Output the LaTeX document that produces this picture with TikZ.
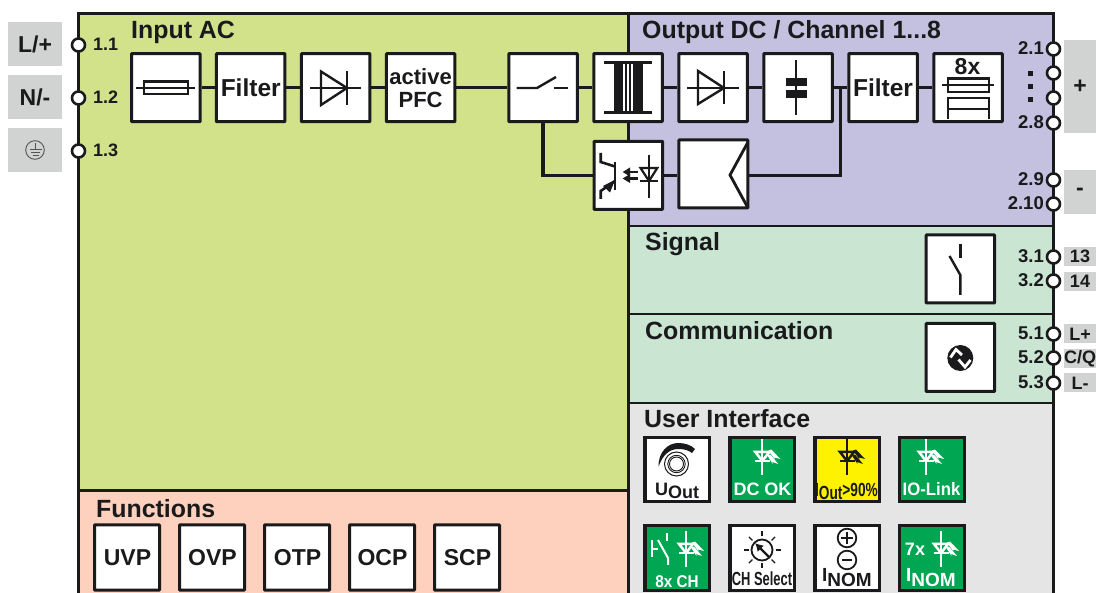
\documentclass[tikz,border=0pt]{standalone}
\usepackage{fontspec}
\usepackage{graphicx}
\setmainfont{Liberation Sans}[BoldFont={Liberation Sans Bold}]
\usetikzlibrary{arrows.meta}
\definecolor{ink}{HTML}{1A1A1C}
\definecolor{inputc}{HTML}{D2E28B}
\definecolor{outc}{HTML}{C4C1E0}
\definecolor{sigc}{HTML}{CAE6D3}
\definecolor{funcc}{HTML}{FDD1BD}
\definecolor{uic}{HTML}{E5E5E5}
\definecolor{tabc}{HTML}{D1D3D2}
\definecolor{ledg}{HTML}{00A651}
\definecolor{ledy}{HTML}{FFF200}
\newcommand{\fs}[1]{\fontsize{#1}{#1}\selectfont\bfseries}
\newcommand{\ledicon}[3]{% cx, top y, colour
  \begin{scope}[shift={(#1,#2)},draw=#3,line width=2pt]
    \draw (0,-1) -- (0,35.5);
    \draw[line width=2.5pt] (-7,12) -- (7,12) -- (0,21) -- cycle;
    \draw[line width=2.5pt] (-7.5,21) -- (7.5,21);
    \fill[#3] (6,10.5) -- (9,9.5) -- (18,19) -- (12,17.5) -- (12.5,19.5) -- cycle;
    \fill[#3] (5,15.5) -- (8,14.5) -- (16,24) -- (10,22) -- (10.5,24) -- cycle;
  \end{scope}}
\tikzset{
  x=1pt,y=-1pt,
  blk/.style={draw=ink,fill=white,line width=3pt,minimum width=68.5pt,minimum height=68pt,inner sep=0pt,rounded corners=0.6pt,text=ink,align=center,font=\fs{24.5}},
  tile/.style={draw=ink,line width=3.2pt,fill=#1,minimum width=64.5pt,minimum height=64.5pt,inner sep=0pt},
  term/.style={circle,draw=ink,fill=white,line width=2.6pt,minimum size=13pt,inner sep=0pt},
  tabbox/.style={fill=tabc,inner sep=0pt,text=ink},
  wire/.style={draw=ink,line width=3.4pt},
  sym/.style={draw=ink,line width=2.4pt},
  title/.style={anchor=base west,text=ink,font=\fs{24.9},inner sep=0pt},
  plab/.style={text=ink,font=\fs{18.5},inner sep=0pt},
  tlab/.style={font=\fs{18},inner sep=0pt,anchor=base},
}
\begin{document}
\begin{tikzpicture}
\useasboundingbox (0,0) rectangle (1096,593);
\clip (0,0) rectangle (1096,593);
\fill[white] (0,0) rectangle (1096,593);
% panels
\fill[inputc] (78,13) rectangle (628,490);
\fill[funcc] (78,490) rectangle (628,600);
\fill[outc] (628,13) rectangle (1053,226);
\fill[sigc] (628,226) rectangle (1053,403);
\fill[uic] (628,403) rectangle (1053,600);
\draw[ink,line width=2.6pt] (78.5,600) -- (78.5,13.5) -- (1053.5,13.5) -- (1053.5,600);
\draw[ink,line width=2.6pt] (628.5,13.5) -- (628.5,600);
\draw[ink,line width=2.6pt] (78.5,490.5) -- (628.5,490.5);
\draw[ink,line width=2.6pt] (628.5,226) -- (1053.5,226);
\draw[ink,line width=2.6pt] (628.5,314) -- (1053.5,314);
\draw[ink,line width=2.6pt] (628.5,403) -- (1053.5,403);
% titles
\node[title] (tinput) at (131,39) {Input AC};
\node[title] (toutput) at (642,39) {Output DC / Channel 1...8};
\node[title] (tsignal) at (645,251) {Signal};
\node[title] (tcomm) at (645,340) {Communication};
\node[title] (tui) at (644,428) {User Interface};
\node[title] (tfunc) at (96,518) {Functions};
% blocks
\node[blk] (fuse) at (165.8,87.7) {};
\node[blk] (filt1) at (250.7,87.7) {\raisebox{-1pt}{Filter}};
\node[blk] (diode1) at (335.7,87.7) {};
\node[blk,font=\fs{22}] (pfc) at (420.6,87.7) {active\\[1pt]PFC};
\node[blk] (switch) at (543,87.7) {};
\node[blk] (xfmr) at (628,87.7) {};
\node[blk] (diode2) at (713,87.7) {};
\node[blk] (cap) at (798,87.7) {};
\node[blk] (filt2) at (883,87.7) {\raisebox{-1pt}{Filter}};
\node[blk] (fuse8) at (968,87.7) {};
\node[blk] (opto) at (628.3,175.3) {};
\node[blk,minimum width=69pt] (dcbox) at (713.3,174) {};
\node[blk] (sigbox) at (960.3,269) {};
\node[blk] (combox) at (960.3,357.5) {};
% connectors
\foreach \a/\b in {fuse/filt1,filt1/diode1,diode1/pfc,pfc/switch,switch/xfmr,xfmr/diode2,diode2/cap,cap/filt2,filt2/fuse8}
  \draw[wire] (\a) -- (\b);
\coordinate (join) at (840.7,87.7);
\coordinate (optoin) at (opto.west);
\coordinate (dcmid) at (dcbox.east |- opto.east);
\draw[wire] (opto.east) -- (dcbox.west |- opto.east);
\draw[wire] (switch.south) |- (optoin);
\draw[wire] (dcmid) -| (join);
% symbols: fuse
\draw[sym] (136,88) -- (195,88);
\draw[sym,line width=2.6pt] (144,81.3) rectangle (188,94);
% diode 1
\draw[sym] (310,88) -- (361,88);
\draw[sym] (321,71.5) -- (321,105) -- (347,88) -- cycle;
\draw[sym] (347,71) -- (347,105);
% switch
\draw[sym] (516.5,88) -- (537,88) -- (556,77);
\draw[sym] (553.5,88) -- (568,88);
% transformer
\draw[sym] (604,62.7) -- (652,62.7);
\draw[sym] (604,112.5) -- (652,112.5);
\fill[ink] (614,62) rectangle (623,113);
\fill[ink] (632.5,62) rectangle (642.5,113);
\fill[ink] (625,62) rectangle (627,113);
\fill[ink] (628.5,62) rectangle (630.5,113);
% diode 2
\draw[sym] (687,88) -- (739,88);
\draw[sym] (698,71) -- (698,104) -- (724,88) -- cycle;
\draw[sym] (724,71) -- (724,104);
% capacitor
\draw[sym,line width=1.8pt] (796,60) -- (796,115);
\fill[ink] (786,78) rectangle (807,86);
\fill[ink] (786,90) rectangle (807,98);
% 8x fuse
\node[tlab,text=ink,font=\fs{23}] (eightx) at (967.5,74.5) {8x};
\draw[sym,line width=1.8pt] (942,85) -- (994,85);
\draw[sym,line width=2.2pt] (948,78.5) rectangle (989,92);
\draw[sym,line width=2.2pt] (948,119) -- (948,98) -- (989,98) -- (989,119);
\draw[sym,line width=2.2pt] (948,109) -- (989,109);
% optocoupler
\draw[sym,line width=2.6pt] (600.7,153) -- (600.7,162) -- (615,166.5);
\draw[sym,line width=2.8pt] (615,162) -- (615,190);
\draw[sym,line width=2.6pt] (615,181) -- (600.7,191) -- (600.7,199);
\fill[ink] (615,180) -- (603,186) -- (610,192.5) -- cycle;
\fill[ink] (622.7,172) -- (630,167.5) -- (630,176.5) -- cycle;
\fill[ink] (622.7,178.5) -- (630,174) -- (630,183) -- cycle;
\draw[ink,line width=2.4pt] (628,172) -- (638,172);
\draw[ink,line width=2.4pt] (628,178.5) -- (638,178.5);
\draw[sym,line width=2.2pt] (649,154.7) -- (649,198);
\draw[sym,line width=2.2pt] (640.5,168) -- (657.3,168) -- (649,181) -- cycle;
\draw[sym,line width=2.4pt] (640,181) -- (658,181);
% DC box chevron
\draw[sym,line width=2.8pt] (748,142) -- (730,175) -- (748,208);
% signal switch
\draw[sym] (960.3,244) -- (960.3,258);
\draw[sym] (960.3,295) -- (960.3,275) -- (949.5,256);
% comm icon
\fill[ink] (960.3,358) circle (13);
\draw[white,line width=2.8pt] (950.5,357.5) -- (956,349.5) -- (962,355);
\draw[white,line width=2.8pt] (958.5,359.5) -- (965,367) -- (970.5,360);
% left tabs and terminals
\node[tabbox,minimum width=54pt,minimum height=44pt,font=\fs{23}] (tabL) at (35,44) {L/+};
\node[tabbox,minimum width=54pt,minimum height=44pt,font=\fs{23}] (tabN) at (35,97) {N/-};
\node[tabbox,minimum width=54pt,minimum height=44pt] (tabE) at (35,150) {};
\draw[ink!75,line width=0.9pt] (tabE.center) circle (9.3);
\draw[ink!75,line width=1pt] (35.5,143) -- (35.5,150);
\draw[ink!75,line width=1pt] (29.5,150) -- (41.5,150);
\draw[ink!75,line width=1pt] (31,153) -- (40,153);
\draw[ink!75,line width=1pt] (32.5,156) -- (38.5,156);
\node[term] (t11) at (78.5,45) {};
\node[term] (t12) at (78.5,98) {};
\node[term] (t13) at (78.5,151) {};
\node[plab,anchor=base west,font=\fs{18}] (l11) at (93,51) {1.1};
\node[plab,anchor=base west,font=\fs{18}] (l12) at (93,104) {1.2};
\node[plab,anchor=base west,font=\fs{18}] (l13) at (93,157) {1.3};
% right tabs
\node[tabbox,minimum width=32pt,minimum height=93pt,font=\fs{23}] (tabP) at (1080,86.5) {+};
\node[tabbox,minimum width=32pt,minimum height=44pt,font=\fs{23}] (tabM) at (1080,192) {-};
\node[tabbox,minimum width=32pt,minimum height=19pt,font=\fs{18}] (tab13) at (1080,256.5) {13};
\node[tabbox,minimum width=32pt,minimum height=19pt,font=\fs{18}] (tab14) at (1080,281.5) {14};
\node[tabbox,minimum width=32pt,minimum height=19pt,font=\fs{18}] (tabLp) at (1080,334) {L+};
\node[tabbox,minimum width=32pt,minimum height=19pt,font=\fs{18}] (tabCQ) at (1080,358.5) {C/Q};
\node[tabbox,minimum width=32pt,minimum height=19pt,font=\fs{18}] (tabLm) at (1080,383) {L-};
\foreach \nm/\yy in {a/49,b/73,c/98,d/123,e/180,f/204,g/257,h/281,i/334,j/358,k/383}
  \node[term] (tr\nm) at (1053.5,\yy) {};
\foreach \nm/\yy/\tx in {a/55/2.1,d/129/2.8,e/186/2.9,f/210/2.10,g/263/3.1,h/287/3.2,i/340/5.1,j/364/5.2,k/389/5.3}
  \node[plab,anchor=base east] (lr\nm) at (1044,\yy) {\tx};
\fill[ink] (1027.5,71.5) rectangle (1032.5,76.5);
\fill[ink] (1027.5,84.5) rectangle (1032.5,89.5);
\fill[ink] (1027.5,97) rectangle (1032.5,102);
% functions
\foreach \nm/\cx in {UVP/127,OVP/212,OTP/297,OCP/382,SCP/467}
  \node[blk,minimum width=65pt,minimum height=65pt,font=\fs{23}] (f\nm) at (\cx,557.5) {\raisebox{-2pt}{\hspace{1pt}\nm}};
% UI tiles row 1
\node[tile=white] (uout) at (677.3,469.5) {};
\node[tile=ledg] (dcok) at (762.3,469.5) {};
\node[tile=ledy] (iout) at (847.3,469.5) {};
\node[tile=ledg] (iolink) at (932,469.5) {};
% UI tiles row 2
\node[tile=ledg] (ch8) at (677.3,558) {};
\node[tile=white] (chsel) at (762.3,558) {};
\node[tile=white] (inom) at (847.3,558) {};
\node[tile=ledg] (inom7) at (932,558) {};
% UOut
\fill[ink] (658.5,467) .. controls (658,452) and (668,443) .. (678,443) .. controls (685,443) and (691,445) .. (695,449) -- (692,453) .. controls (688,450) and (684,449) .. (678,449) .. controls (669,449) and (662,456) .. cycle;
\draw[ink,line width=1pt] (676.5,464) circle (12);
\draw[ink,line width=0.9pt] (676.5,464) circle (8.7);
\draw[ink,line width=0.9pt] (676.5,464) circle (7);
\node[tlab,text=ink] (uoutt) at (677,496) {U\raisebox{-3pt}{Out}};
% LEDs
\ledicon{762.3}{440}{white}
\node[tlab,text=white] (dcokt) at (762.5,496) {DC OK};
\ledicon{847}{440}{ink}
\node[tlab,text=ink] (ioutt) at (846.5,497) {\scalebox{0.72}[1]{\fs{19}I\raisebox{-3pt}{Out}>90\%}};
\ledicon{926}{440}{white}
\node[tlab,text=white] (iolinkt) at (931.5,496) {\scalebox{0.93}[1]{IO-Link}};
% 8x CH
\ledicon{686}{532}{white}
\draw[white,line width=2pt] (652,540) -- (652,557);
\draw[white,line width=2pt] (652,549) -- (658,549);
\draw[white,line width=2pt] (658,540) -- (668,558) -- (668,565);
\draw[white,line width=2pt] (667,533) -- (667,541);
\node[tlab,text=white,font=\fs{17}] (ch8t) at (677,587) {\scalebox{0.9}[1]{8x CH}};
% CH select
\draw[ink,line width=1.8pt] (762,550) circle (10.5);
\foreach \ang in {0,45,...,315}
  \draw[ink,line width=1.2pt] (762,550) ++(\ang:13.5) -- ++(\ang:5);
\draw[ink,line width=2.4pt,-{Latex[length=8pt,width=9pt]}] (769,557) -- (755,543);
\node[tlab,text=ink] (chselt) at (762,586) {\scalebox{0.68}[1]{\fs{19}CH Select}};
% I NOM
\draw[ink,line width=1.8pt] (847,538) circle (9.3);
\draw[ink,line width=2pt] (841,538) -- (853,538);
\draw[ink,line width=2pt] (847,532) -- (847,544);
\draw[ink,line width=1.8pt] (847,560) circle (9.3);
\draw[ink,line width=2pt] (842,560) -- (852,560);
\node[tlab,text=ink] (inomt) at (847,582) {\fs{19}I\raisebox{-5pt}{NOM}};
% 7x
\node[tlab,text=white] (x7) at (915,556) {7x};
\ledicon{941}{532}{white}
\node[tlab,text=white] (inom7t) at (931,582) {\fs{19}I\raisebox{-5pt}{NOM}};
\end{tikzpicture}
\end{document}
